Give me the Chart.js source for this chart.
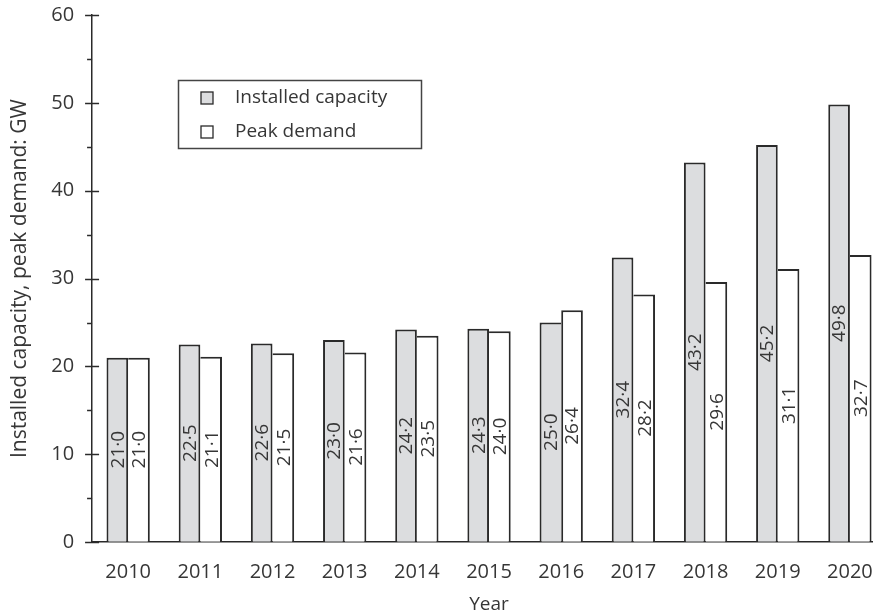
<!DOCTYPE html>
<html>
<head>
<meta charset="utf-8">
<style>
  html, body { margin: 0; padding: 0; background: #fff; overflow: hidden; }
  #wrap { width: 873px; height: 616px; overflow: hidden; }
</style>
<script src="https://cdn.jsdelivr.net/npm/chart.js@4.4.1/dist/chart.umd.min.js"></script>
</head>
<body>
<div id="wrap"><canvas id="grafik" width="886" height="616"></canvas></div>
<script>
  const tahun = ["2010", "2011", "2012", "2013", "2014", "2015", "2016", "2017", "2018", "2019", "2020"];
  const installed = [21.0, 22.5, 22.6, 23.0, 24.2, 24.3, 25.0, 32.4, 43.2, 45.2, 49.8];
  const peak = [21.0, 21.1, 21.5, 21.6, 23.5, 24.0, 26.4, 28.2, 29.6, 31.1, 32.7];

  const teks = "#363636";
  const garis = "#2a2a2a";
  const huruf = "'Open Sans', 'Noto Sans', sans-serif";

  // ticks that cross the axis (major) and short ones on the left (minor)
  const tickAxis = {
    id: "tickAxis",
    afterDraw(chart) {
      const ctx = chart.ctx;
      const y = chart.scales.y;
      const x0 = y.right;
      ctx.save();
      ctx.strokeStyle = garis;
      ctx.lineWidth = 1.5;
      y.ticks.forEach(t => {
        const py = Math.round(y.getPixelForValue(t.value)) + 0.5;
        const major = t.value % 10 === 0;
        ctx.beginPath();
        ctx.moveTo(x0 - (major ? 7 : 5), py);
        ctx.lineTo(x0 + (major ? 7 : 0), py);
        ctx.stroke();
      });
      ctx.restore();
    }
  };

  // rotated value labels in the middle of each bar
  const nilaiBar = {
    id: "nilaiBar",
    afterDatasetsDraw(chart) {
      const ctx = chart.ctx;
      ctx.save();
      ctx.fillStyle = teks;
      ctx.font = "19px " + huruf;
      ctx.textAlign = "center";
      ctx.textBaseline = "middle";
      chart.data.datasets.forEach((ds, di) => {
        chart.getDatasetMeta(di).data.forEach((bar, i) => {
          const cy = (bar.y + bar.base) / 2;
          ctx.save();
          ctx.translate(bar.x, cy);
          ctx.rotate(-Math.PI / 2);
          ctx.fillText(ds.data[i].toFixed(1).replace(".", "\u00b7"), 0, 1);
          ctx.restore();
        });
      });
      ctx.restore();
    }
  };

  // boxed legend inside the plot
  const kotakLegend = {
    id: "kotakLegend",
    afterDraw(chart) {
      const ctx = chart.ctx;
      ctx.save();
      ctx.strokeStyle = "#444";
      ctx.lineWidth = 1.5;
      ctx.strokeRect(178.5, 80.5, 243, 68);
      ctx.font = "19px " + huruf;
      ctx.textBaseline = "middle";
      ctx.textAlign = "left";
      const rows = [98, 132];
      chart.data.datasets.forEach((ds, i) => {
        ctx.fillStyle = ds.backgroundColor;
        ctx.fillRect(201, rows[i] - 6, 12, 12);
        ctx.strokeStyle = garis;
        ctx.lineWidth = 1.3;
        ctx.strokeRect(201, rows[i] - 6, 12, 12);
        ctx.fillStyle = teks;
        ctx.fillText(ds.label, 235, rows[i]);
      });
      ctx.restore();
    }
  };

  new Chart(document.getElementById("grafik").getContext("2d"), {
    type: "bar",
    data: {
      labels: tahun,
      datasets: [{
        label: "Installed capacity",
        data: installed,
        backgroundColor: "#dcdddf",
        borderColor: garis,
        borderWidth: c => ({ top: 2, left: 2, bottom: 0, right: installed[c.dataIndex] >= peak[c.dataIndex] ? 2 : 0 }),
        borderSkipped: false
      }, {
        label: "Peak demand",
        data: peak,
        backgroundColor: "#ffffff",
        borderColor: garis,
        borderWidth: c => ({ top: 2, right: 2, bottom: 0, left: peak[c.dataIndex] > installed[c.dataIndex] ? 2 : 0 }),
        borderSkipped: false
      }]
    },
    options: {
      responsive: false,
      animation: false,
      categoryPercentage: 0.6,
      barPercentage: 1,
      layout: { padding: { top: 15, left: 3, right: 0, bottom: 0 } },
      plugins: {
        legend: { display: false },
        tooltip: { enabled: false }
      },
      scales: {
        x: {
          // invisible tick marks keep the labels 18px below the axis
          grid: { display: true, drawOnChartArea: false, drawTicks: true, tickLength: 18, tickColor: "rgba(0,0,0,0)" },
          border: { display: true, color: garis, width: 1.5 },
          ticks: { color: teks, font: { family: huruf, size: 20 }, padding: 0, maxRotation: 0 },
          title: { display: true, text: "Year", color: teks, font: { family: huruf, size: 19 }, padding: { top: 9, bottom: 0 } }
        },
        y: {
          min: 0,
          max: 60,
          grid: { display: true, drawOnChartArea: false, drawTicks: true, tickLength: 18, tickColor: "rgba(0,0,0,0)" },
          border: { display: true, color: garis, width: 1.5 },
          ticks: {
            stepSize: 5,
            color: teks,
            font: { family: huruf, size: 20 },
            padding: 0,
            callback: v => (v % 10 === 0 ? v : "")
          },
          title: {
            display: true,
            text: "Installed capacity, peak demand: GW",
            color: teks,
            font: { family: huruf, size: 21 },
            padding: { top: 4, bottom: 19 }
          }
        }
      }
    },
    plugins: [tickAxis, nilaiBar, kotakLegend]
  });
</script>
</body>
</html>
